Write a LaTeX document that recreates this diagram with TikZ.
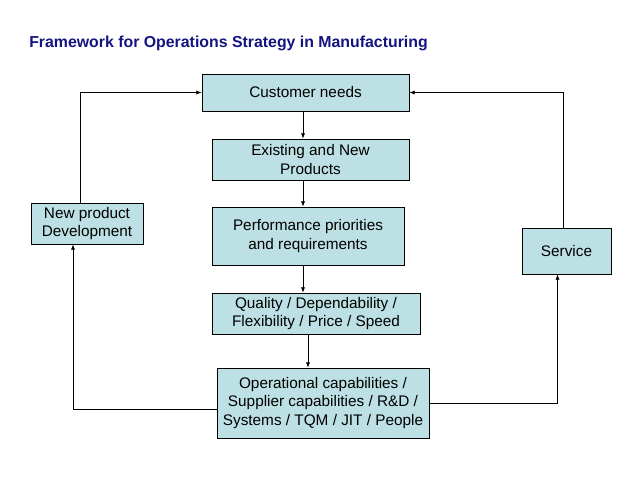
\documentclass[tikz,border=0pt]{standalone}
\usepackage{fontspec}
\setmainfont{Liberation Sans}
\usetikzlibrary{arrows.meta, positioning, calc}
\definecolor{boxcyan}{RGB}{189,224,228}
\definecolor{titlenavy}{RGB}{20,20,128}

\begin{document}
\begin{tikzpicture}[x=0.75pt, y=-0.75pt,
    stage/.style={rectangle, draw, line width=0.6pt, fill=boxcyan,
                  inner sep=1pt, align=center,
                  font=\fontsize{11.5}{14}\selectfont},
    arr/.style={line width=0.6pt, -{Latex[length=4pt, width=3.2pt]}}]

\useasboundingbox (0,0) rectangle (638,479);

%% ── Title ────────────────────────────────────────────────────────────────────
\node[anchor=base west, inner sep=0pt, text=titlenavy,
      font=\fontsize{11.9}{14}\selectfont\bfseries] (title) at (29,47)
    {Framework for Operations Strategy in Manufacturing};

%% ── Central column ───────────────────────────────────────────────────────────
\node[stage, minimum width=207*0.75pt, minimum height=37*0.75pt] (cust) at (305.5,92.5)
    {Customer needs};

\node[stage, minimum width=197*0.75pt, minimum height=41*0.75pt] (exist) at (310.5,159.5)
    {Existing and New\\Products};

\node[stage, minimum width=192*0.75pt, minimum height=58*0.75pt] (perf) at (308,236)
    {Performance priorities\\and requirements};

\node[stage, minimum width=208*0.75pt, minimum height=41*0.75pt] (qual) at (316,313.5)
    {Quality / Dependability /\\Flexibility / Price / Speed};

\node[stage, minimum width=212*0.75pt, minimum height=70*0.75pt] (oper) at (323,403)
    {Operational capabilities /\\Supplier capabilities / R\&D /\\Systems / TQM / JIT / People};

%% ── Side boxes ───────────────────────────────────────────────────────────────
\node[stage, minimum width=112*0.75pt, minimum height=41*0.75pt] (newprod) at (87,223.5)
    {New product\\Development};

\node[stage, minimum width=89*0.75pt, minimum height=46*0.75pt] (serv) at (566.5,251)
    {Service};

%% ── Downward flow ────────────────────────────────────────────────────────────
\coordinate (spine) at (303,0);
\coordinate (spinelow) at (308,0);

\draw[arr] (spine |- cust.south) -- (spine |- exist.north);
\draw[arr] (spine |- exist.south) -- (spine |- perf.north);
\draw[arr] (spine |- perf.south) -- (spine |- qual.north);
\draw[arr] (spinelow |- qual.south) -- (spinelow |- oper.north);

%% ── Feedback loops ───────────────────────────────────────────────────────────
\draw[arr] ([yshift=-5pt]oper.west) -| ([xshift=-10.5pt]newprod.south);
\draw[arr] ([xshift=-5pt]newprod.north) |- (cust.west);

\draw[arr] (oper.east) -| ([xshift=-6.75pt]serv.south);
\draw[arr] ([xshift=-2.6pt]serv.north) |- (cust.east);

\end{tikzpicture}
\end{document}
